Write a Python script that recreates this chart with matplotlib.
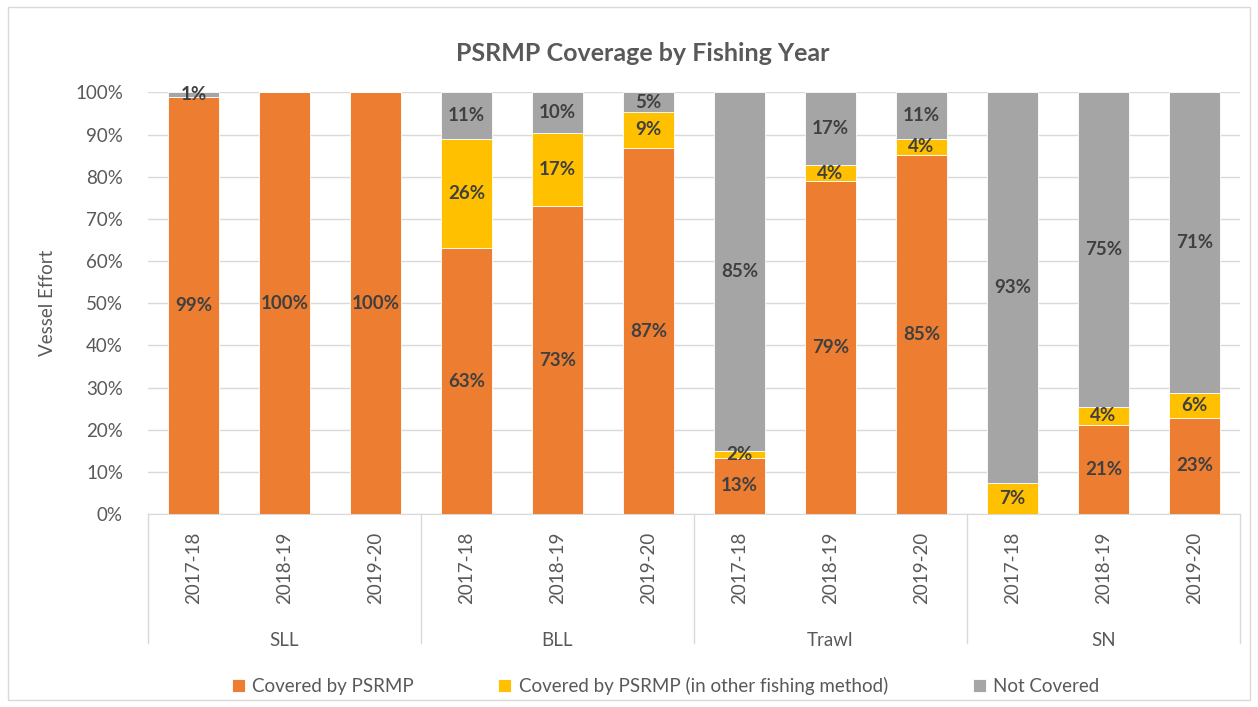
import matplotlib.pyplot as plt
import matplotlib.transforms as mtransforms
import numpy as np

plt.rcParams['font.family'] = ['Lato', 'DejaVu Sans']

# data
groups = ['SLL', 'BLL', 'Trawl', 'SN']
years = ['2017-18', '2018-19', '2019-20']
covered = [99, 100, 100, 63, 73, 86.8, 13.3, 79, 85.2, 0, 21.2, 22.8]
covered_other = [0, 0, 0, 26, 17.3, 8.6, 1.7, 3.7, 3.8, 7.3, 4.2, 6]
not_covered = [1, 0, 0, 11, 9.7, 4.6, 85, 17.3, 11, 92.7, 74.6, 71.2]

series = [
    ('Covered by PSRMP', covered, '#ED7D31'),
    ('Covered by PSRMP (in other fishing method)', covered_other, '#FFC000'),
    ('Not Covered', not_covered, '#A5A5A5'),
]

txt = '#595959'
fs = 13.5
fig = plt.figure(figsize=(12.58, 7.07), dpi=100)
ax = fig.add_axes([0.1176, 0.273, 0.8681, 0.5962])

x = np.arange(len(covered))
bottom = np.zeros(len(x))
for name, vals, col in series:
    vals = np.array(vals, dtype=float)
    ax.bar(x, vals, 0.57, bottom=bottom, color=col, label=name,
           edgecolor='white', linewidth=0.6, zorder=3)
    for xi, b, v in zip(x, bottom, vals):
        if v > 0:
            ax.text(xi, b + v / 2, '%d%%' % round(v), ha='center', va='center',
                    fontsize=fs, fontweight='bold', color='#404040', zorder=4)
    bottom += vals

ax.set_xlim(-0.5, len(x) - 0.5)
ax.set_ylim(0, 100)
ax.set_yticks(np.arange(0, 101, 10))
ax.set_yticklabels(['%d%%' % v for v in range(0, 101, 10)])
ax.tick_params(axis='y', length=0, labelsize=fs, labelcolor=txt, pad=18)
ax.set_xticks([])
ax.grid(axis='y', color='#d9d9d9', linewidth=1, zorder=0)
for s in ['top', 'right', 'left']:
    ax.spines[s].set_visible(False)
ax.spines['bottom'].set_color('#d9d9d9')
ax.set_ylabel('Vessel Effort', fontsize=fs, color=txt, labelpad=14)

# two level category axis
trans = mtransforms.blended_transform_factory(ax.transData, ax.transAxes)
for i in range(len(x)):
    ax.text(i, -0.043, years[i % 3], rotation=90, ha='center', va='top',
            fontsize=fs, color=txt, transform=trans)
for g, name in enumerate(groups):
    ax.text(g * 3 + 1, -0.299, name, ha='center', va='center',
            fontsize=fs, color=txt, transform=trans)
for b in np.arange(-0.5, len(x), 3):
    ax.plot([b, b], [0, -0.306], color='#d9d9d9', linewidth=1,
            transform=trans, clip_on=False)

fig.suptitle('PSRMP Coverage by Fishing Year', x=0.511, y=0.94,
             fontsize=18, fontweight='bold', color=txt)

fig.legend(loc='center', bbox_to_anchor=(0.529, 0.03), ncol=3, frameon=False,
           fontsize=fs, labelcolor=txt, handlelength=0.7, handleheight=0.7,
           columnspacing=4.5, handletextpad=0.4)

# chart border
fig.patches.append(plt.Rectangle((0.006, 0.01), 0.988, 0.98, fill=False,
                                 edgecolor='#d9d9d9', linewidth=1,
                                 transform=fig.transFigure))

fig.savefig('out.png', dpi=100)
